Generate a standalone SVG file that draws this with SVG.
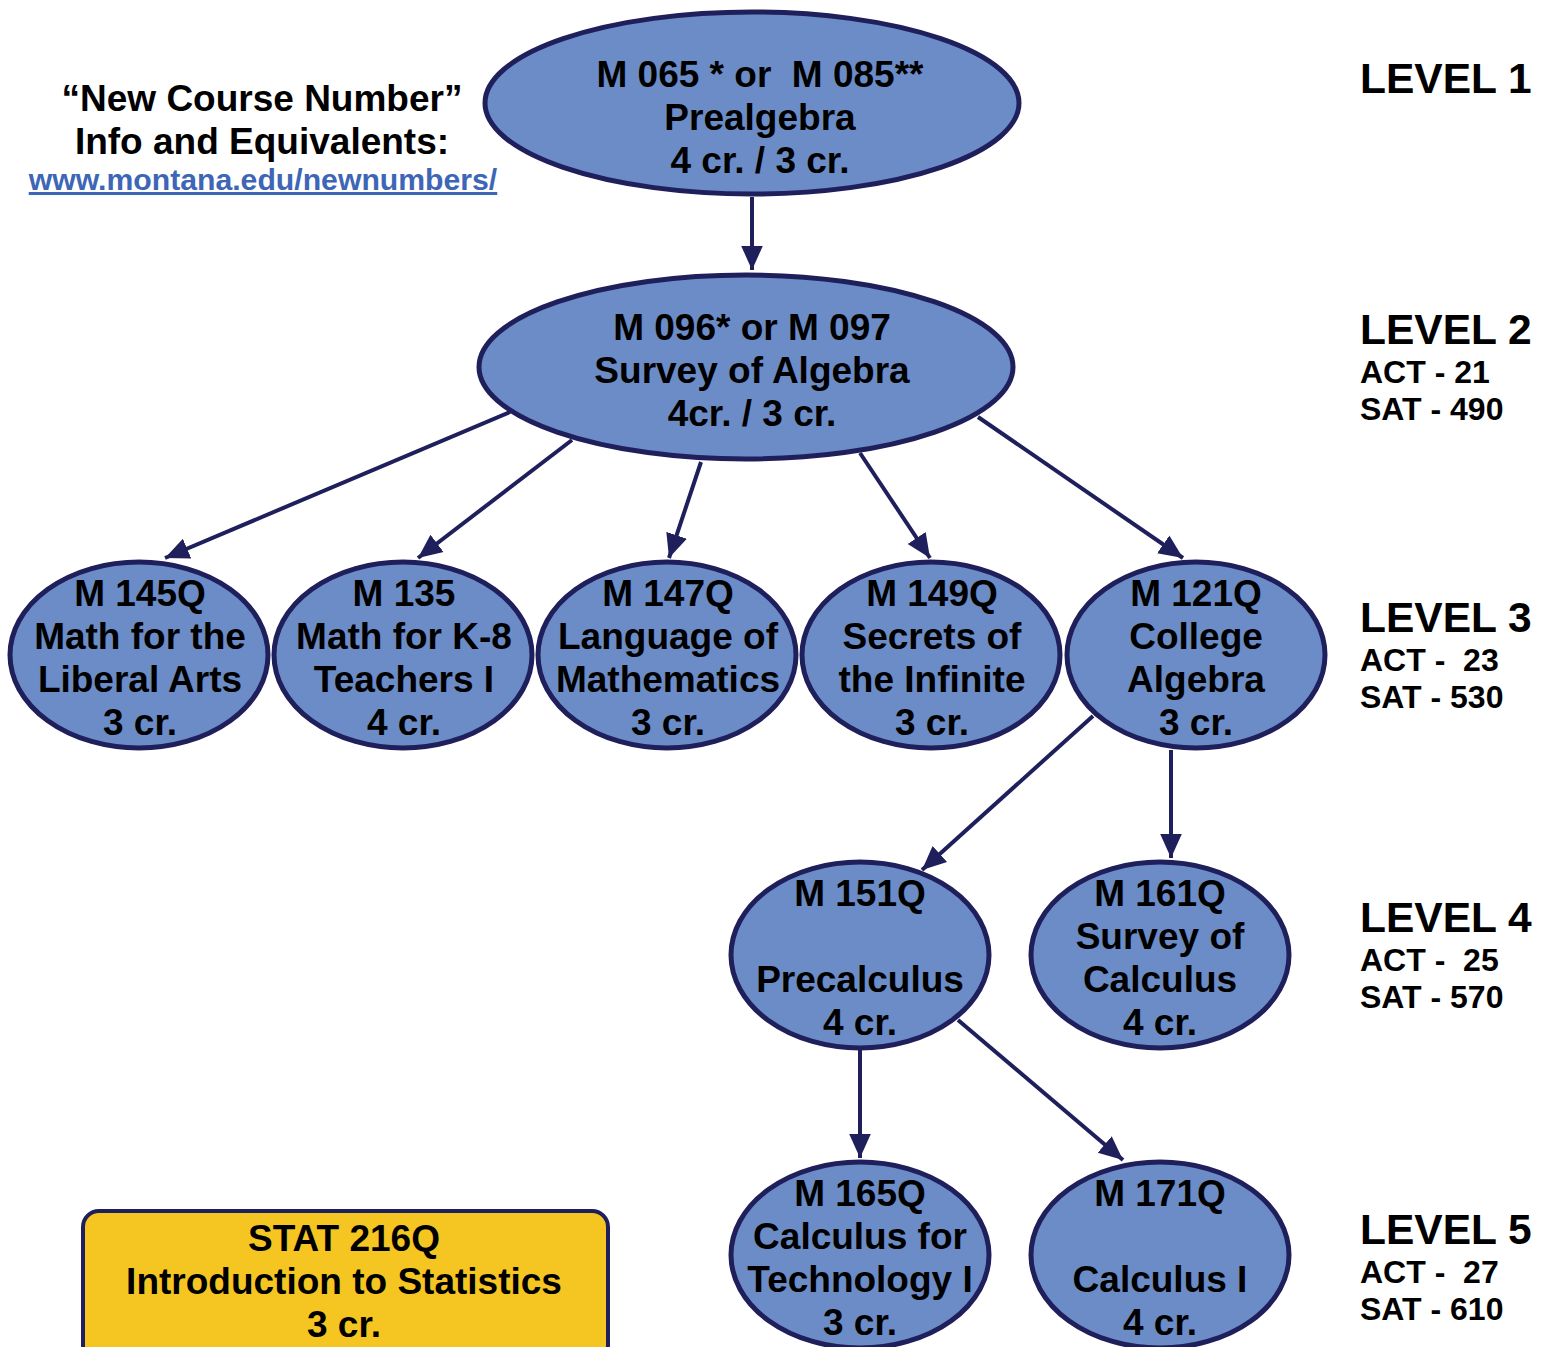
<svg xmlns="http://www.w3.org/2000/svg" width="1549" height="1347" viewBox="0 0 1549 1347">
<defs>
<marker id="ah" markerUnits="userSpaceOnUse" markerWidth="24" markerHeight="24" viewBox="0 0 20 20" refX="20" refY="10" orient="auto">
<path d="M0,1 L20,10 L0,19 Z" fill="#1f1f5c"/>
</marker>
<style>
.n ellipse{fill:#6b8cc6;stroke:#1f1f5c;stroke-width:5}
.t{font-family:"Liberation Sans",Arial,sans-serif;font-weight:bold;font-size:37px;fill:#000;text-anchor:middle}
.c line{stroke:#1f1f5c;stroke-width:4;marker-end:url(#ah)}
.lv{font-family:"Liberation Sans",Arial,sans-serif;font-weight:bold;font-size:42.5px;fill:#000}
.sc{font-family:"Liberation Sans",Arial,sans-serif;font-weight:bold;font-size:32px;fill:#000}
</style>
</defs>
<rect width="1549" height="1347" fill="#fff"/>

<g id="info">
<text class="t" x="262" y="111">“New Course Number”</text>
<text class="t" x="262" y="154">Info and Equivalents:</text>
<text x="263" y="190" font-family="Liberation Sans,Arial,sans-serif" font-weight="bold" font-size="30.2" fill="#3d66b6" text-anchor="middle" text-decoration="underline">www.montana.edu/newnumbers/</text>
</g>

<g class="c" id="connectors">
<line x1="752" y1="197" x2="752" y2="270"/>
<line x1="510" y1="412" x2="165" y2="558"/>
<line x1="572" y1="440" x2="418" y2="558"/>
<line x1="701" y1="462" x2="669" y2="558"/>
<line x1="860" y1="453" x2="930" y2="558"/>
<line x1="978" y1="417" x2="1183" y2="558"/>
<line x1="1093" y1="716" x2="922" y2="870"/>
<line x1="1171" y1="750" x2="1171" y2="858"/>
<line x1="860" y1="1050" x2="860" y2="1158"/>
<line x1="958" y1="1020" x2="1123" y2="1160"/>
</g>

<g class="n" id="m065">
<ellipse cx="752" cy="103" rx="267" ry="91"/>
<text class="t" x="760" y="87" xml:space="preserve">M 065 * or  M 085**</text>
<text class="t" x="760" y="130">Prealgebra</text>
<text class="t" x="760" y="173">4 cr. / 3 cr.</text>
</g>

<g class="n" id="m096">
<ellipse cx="746" cy="367" rx="267" ry="92"/>
<text class="t" x="752" y="340">M 096* or M 097</text>
<text class="t" x="752" y="383">Survey of Algebra</text>
<text class="t" x="752" y="426">4cr. / 3 cr.</text>
</g>

<g class="n" id="m145q">
<ellipse cx="139" cy="655" rx="129" ry="93"/>
<text class="t" x="140" y="606">M 145Q</text>
<text class="t" x="140" y="649">Math for the</text>
<text class="t" x="140" y="692">Liberal Arts</text>
<text class="t" x="140" y="735">3 cr.</text>
</g>

<g class="n" id="m135">
<ellipse cx="403" cy="655" rx="129" ry="93"/>
<text class="t" x="404" y="606">M 135</text>
<text class="t" x="404" y="649">Math for K-8</text>
<text class="t" x="404" y="692">Teachers I</text>
<text class="t" x="404" y="735">4 cr.</text>
</g>

<g class="n" id="m147q">
<ellipse cx="667" cy="655" rx="129" ry="93"/>
<text class="t" x="668" y="606">M 147Q</text>
<text class="t" x="668" y="649">Language of</text>
<text class="t" x="668" y="692">Mathematics</text>
<text class="t" x="668" y="735">3 cr.</text>
</g>

<g class="n" id="m149q">
<ellipse cx="931" cy="655" rx="129" ry="93"/>
<text class="t" x="932" y="606">M 149Q</text>
<text class="t" x="932" y="649">Secrets of</text>
<text class="t" x="932" y="692">the Infinite</text>
<text class="t" x="932" y="735">3 cr.</text>
</g>

<g class="n" id="m121q">
<ellipse cx="1196" cy="655" rx="129" ry="93"/>
<text class="t" x="1196" y="606">M 121Q</text>
<text class="t" x="1196" y="649">College</text>
<text class="t" x="1196" y="692">Algebra</text>
<text class="t" x="1196" y="735">3 cr.</text>
</g>

<g class="n" id="m151q">
<ellipse cx="860" cy="955" rx="129" ry="93"/>
<text class="t" x="860" y="906">M 151Q</text>
<text class="t" x="860" y="992">Precalculus</text>
<text class="t" x="860" y="1035">4 cr.</text>
</g>

<g class="n" id="m161q">
<ellipse cx="1160" cy="955" rx="129" ry="93"/>
<text class="t" x="1160" y="906">M 161Q</text>
<text class="t" x="1160" y="949">Survey of</text>
<text class="t" x="1160" y="992">Calculus</text>
<text class="t" x="1160" y="1035">4 cr.</text>
</g>

<g class="n" id="m165q">
<ellipse cx="860" cy="1255" rx="129" ry="93"/>
<text class="t" x="860" y="1206">M 165Q</text>
<text class="t" x="860" y="1249">Calculus for</text>
<text class="t" x="860" y="1292">Technology I</text>
<text class="t" x="860" y="1335">3 cr.</text>
</g>

<g class="n" id="m171q">
<ellipse cx="1160" cy="1255" rx="129" ry="93"/>
<text class="t" x="1160" y="1206">M 171Q</text>
<text class="t" x="1160" y="1292">Calculus I</text>
<text class="t" x="1160" y="1335">4 cr.</text>
</g>

<g id="stat216q">
<rect x="83" y="1211" width="525" height="150" rx="16" fill="#f5c521" stroke="#1f1f5c" stroke-width="4"/>
<text class="t" x="344" y="1251">STAT 216Q</text>
<text class="t" x="344" y="1294">Introduction to Statistics</text>
<text class="t" x="344" y="1337">3 cr.</text>
</g>

<g id="levels">
<text class="lv" x="1360" y="93">LEVEL 1</text>
<text class="lv" x="1360" y="344">LEVEL 2</text>
<text class="sc" x="1360" y="383">ACT - 21</text>
<text class="sc" x="1360" y="420">SAT - 490</text>
<text class="lv" x="1360" y="632">LEVEL 3</text>
<text class="sc" x="1360" y="671" xml:space="preserve">ACT -  23</text>
<text class="sc" x="1360" y="708">SAT - 530</text>
<text class="lv" x="1360" y="932">LEVEL 4</text>
<text class="sc" x="1360" y="971" xml:space="preserve">ACT -  25</text>
<text class="sc" x="1360" y="1008">SAT - 570</text>
<text class="lv" x="1360" y="1244">LEVEL 5</text>
<text class="sc" x="1360" y="1283" xml:space="preserve">ACT -  27</text>
<text class="sc" x="1360" y="1320">SAT - 610</text>
</g>
</svg>
